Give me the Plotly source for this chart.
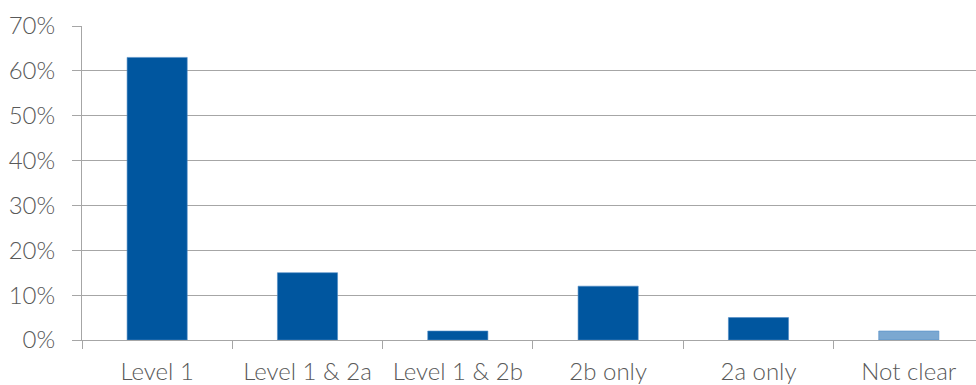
import plotly.graph_objects as go

# Share of responses by category (percent)
categories = ["Level 1", "Level 1 & 2a", "Level 1 & 2b", "2b only", "2a only", "Not clear"]
shares = [63, 15, 2, 12, 5, 2]
bar_colors = ["#00569F", "#00569F", "#00569F", "#00569F", "#00569F", "#7BA8D1"]
y_ticks = [0, 10, 20, 30, 40, 50, 60, 70]
y_tick_labels = [f"{v}%" for v in y_ticks]

text_color = "#595959"
grid_color = "#A6A6A6"
font = dict(family="Lato", size=24, color=text_color, weight=300)

fig = go.Figure(
    go.Bar(
        x=categories,
        y=shares,
        marker=dict(color=bar_colors, line=dict(color="#4F8BC6", width=0.6)),
        hoverinfo="x+y",
    )
)

fig.update_layout(
    width=976,
    height=385,
    margin=dict(l=82, r=0, t=26, b=45),
    paper_bgcolor="white",
    plot_bgcolor="white",
    bargap=0.6,
    showlegend=False,
    font=font,
)

fig.update_xaxes(
    type="category",
    range=[-0.5, 5.447],
    tickson="boundaries",
    ticks="outside",
    ticklen=8,
    tickwidth=1,
    tickcolor=grid_color,
    showline=True,
    linecolor=grid_color,
    linewidth=1,
    showgrid=False,
    tickfont=font,
    ticklabelstandoff=10,
    automargin=False,
)

fig.update_yaxes(
    range=[0, 70],
    tickmode="array",
    tickvals=y_ticks,
    ticktext=y_tick_labels,
    ticks="outside",
    ticklen=9,
    tickwidth=1,
    tickcolor=grid_color,
    showline=True,
    linecolor=grid_color,
    linewidth=1,
    showgrid=True,
    gridcolor=grid_color,
    gridwidth=1,
    zeroline=False,
    tickfont=font,
    ticklabelstandoff=12,
    automargin=False,
)

fig.write_html("out.html")
